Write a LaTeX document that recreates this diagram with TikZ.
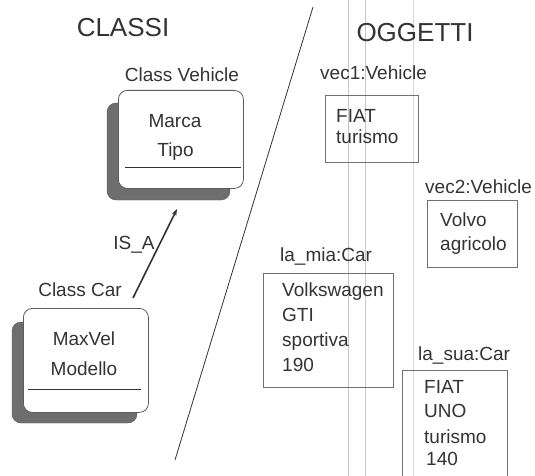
\documentclass[tikz,border=0pt]{standalone}
\usepackage{fontspec}
\setmainfont{Liberation Sans}
\usetikzlibrary{arrows.meta}
\definecolor{ink}{HTML}{333333}
\definecolor{shade}{HTML}{6E6E6E}
\begin{document}
\begin{tikzpicture}[x=1pt,y=-1pt,
  txt/.style={inner sep=0pt, text=ink, font=\fontsize{19}{23}\selectfont},
  ttl/.style={inner sep=0pt, text=ink, font=\fontsize{26}{30}\selectfont},
  clsbox/.style={draw=ink!80, line width=0.8pt, fill=white, rounded corners=9pt},
  clsshadow/.style={fill=shade, draw=shade!80!black, rounded corners=9pt},
  objbox/.style={draw=ink!70, line width=0.7pt},
  artifact/.style={draw=gray!45, line width=0.6pt}]
\useasboundingbox (0,0) rectangle (535,476);
\fill[white] (0,0) rectangle (535,476);
% faint vertical scan lines
\coordinate (v1t) at (348,0); \coordinate (v1b) at (348,476);
\coordinate (v2t) at (365,0); \coordinate (v2b) at (365,476);
\coordinate (v3t) at (413,0); \coordinate (v3b) at (413,476);
\draw[artifact] (v1t) -- (v1b);
\draw[artifact] (v2t) -- (v2b);
\draw[artifact, draw=gray!30] (v3t) -- (v3b);
% titles
\node[ttl, anchor=base] (classi) at (123,37) {CLASSI};
\node[ttl, anchor=base] (oggetti) at (415,42) {OGGETTI};
% divider
\coordinate (dtop) at (313,7);
\coordinate (dbot) at (175,460);
\draw[ink, line width=0.8pt] (dtop) -- (dbot);
% Class Vehicle
\node[txt, anchor=base] (lblveh) at (182,81.5) {Class Vehicle};
\path[clsshadow] (107,103) rectangle (230,200);
\node[clsbox, anchor=north west, minimum width=125pt, minimum height=98pt] (veh) at (118,90) {};
\coordinate (vsepl) at (125,167); \coordinate (vsepr) at (241,167);
\draw[ink, line width=0.8pt] (vsepl) -- (vsepr);
\node[txt, anchor=base] (marca) at (175,127.5) {Marca};
\node[txt, anchor=base] (tipo) at (175.5,156.5) {Tipo};
% Class Car
\node[txt, anchor=base] (lblcar) at (80,296.5) {Class Car};
\path[clsshadow] (12,322) rectangle (137,423);
\node[clsbox, anchor=north west, minimum width=125pt, minimum height=104pt] (car) at (23,308) {};
\coordinate (csepl) at (28,389); \coordinate (csepr) at (141,389);
\draw[ink, line width=0.8pt] (csepl) -- (csepr);
\node[txt, anchor=base] (maxvel) at (84,345) {MaxVel};
\node[txt, anchor=base] (modello) at (84,375) {Modello};
% IS_A arrow
\coordinate (isafrom) at (133,298);
\coordinate (isato) at (177,209);
\draw[ink, line width=1.6pt, -{Stealth[length=7pt,width=5pt]}] (isafrom) -- (isato);
\node[txt, anchor=base] (isa) at (134,249.5) {IS\_A};
% vec1
\node[txt, anchor=base west] (lblv1) at (320,80) {vec1:Vehicle};
\node[objbox, anchor=north west, minimum width=93pt, minimum height=67pt] (v1) at (325,95) {};
\node[txt, anchor=base west] (v1a) at (336,123) {FIAT};
\node[txt, anchor=base west] (v1b) at (336,143) {turismo};
% vec2
\node[txt, anchor=base west] (lblv2) at (425,193) {vec2:Vehicle};
\node[objbox, anchor=north west, minimum width=90pt, minimum height=67pt] (v2) at (427,200) {};
\node[txt, anchor=base west] (v2a) at (440,226.5) {Volvo};
\node[txt, anchor=base west] (v2b) at (440,250) {agricolo};
% la_mia
\node[txt, anchor=base west] (lblmia) at (280,261.5) {la\_mia:Car};
\node[objbox, anchor=north west, minimum width=130pt, minimum height=114pt] (mia) at (263,273) {};
\node[txt, anchor=base west] (mia1) at (282,296.5) {Volkswagen};
\node[txt, anchor=base west] (mia2) at (282,321.5) {GTI};
\node[txt, anchor=base west] (mia3) at (282,346.5) {sportiva};
\node[txt, anchor=base west] (mia4) at (282,371.5) {190};
% la_sua
\node[txt, anchor=base west] (lblsua) at (418,360) {la\_sua:Car};
\node[objbox, anchor=north west, minimum width=105pt, minimum height=115pt] (sua) at (402,370) {};
\node[txt, anchor=base west] (sua1) at (424,393.5) {FIAT};
\node[txt, anchor=base west] (sua2) at (424,417) {UNO};
\node[txt, anchor=base west] (sua3) at (424,443) {turismo};
\node[txt, anchor=base west] (sua4) at (426,465) {140};
\end{tikzpicture}
\end{document}
